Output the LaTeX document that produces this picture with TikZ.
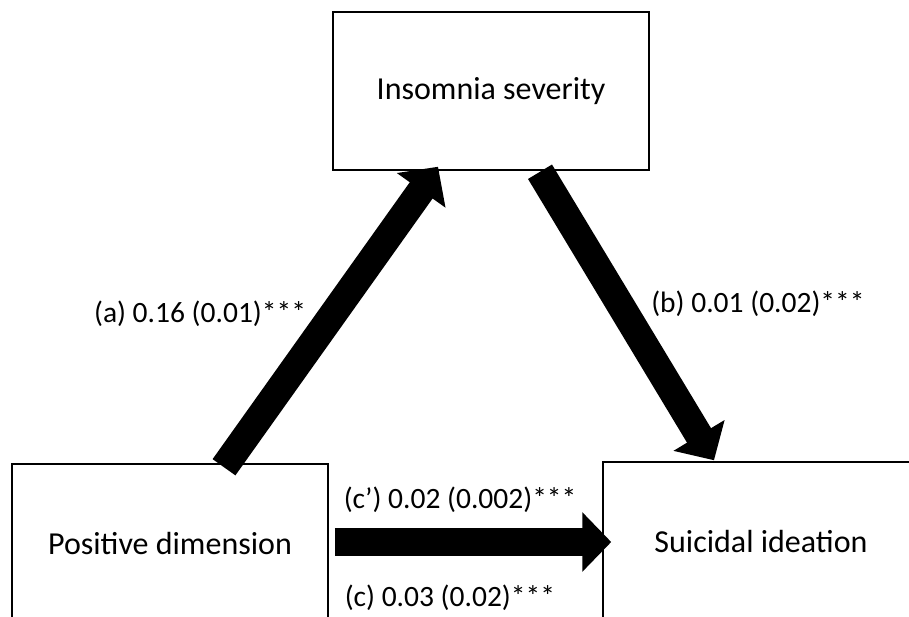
\documentclass[tikz,border=0pt]{standalone}
\usepackage{fontspec}
\setmainfont{Carlito}
\usetikzlibrary{arrows.meta,positioning}
\begin{document}
\begin{tikzpicture}[x=1pt, y=-1pt, thick,
    main/.style = {draw, line width=1.5pt, minimum width=316pt, minimum height=158pt, font=\fontsize{32}{38}\selectfont},
    path/.style = {line width=28pt, -{Triangle[width=58pt, length=29pt]}},
    lbl/.style = {inner sep=0pt, outer sep=0pt, font=\fontsize{29.5}{34}\selectfont}]
      \clip (0,0) rectangle (909,616);
      \node[main] (1) at (491,91) {Insomnia severity};
      \node[main] (2) at (170,543) {Positive dimension};
      \node[main] (3) at (761,541) {Suicidal ideation};

      \draw[path] ([xshift=54pt,yshift=-4pt]2.north) -- node[lbl, left=25pt, yshift=3pt] {(a) 0.16 (0.01)***} ([xshift=-53pt,yshift=4pt]1.south);
      \draw[path] ([xshift=49pt,yshift=-1pt]1.south) -- node[lbl, pos=0.45, right=33pt, yshift=-2pt] {(b) 0.01 (0.02)***} ([xshift=-47pt,yshift=1pt]3.north);
      \draw[path] ([xshift=6pt,yshift=1pt]2.east) -- node[lbl, at start, above right=29pt and 9pt] {(c’) 0.02 (0.002)***}
                  node[lbl, at start, below right=43pt and 10pt] {(c) 0.03 (0.02)***} ([xshift=9pt,yshift=-1pt]3.west);
    \end{tikzpicture}
\end{document}
